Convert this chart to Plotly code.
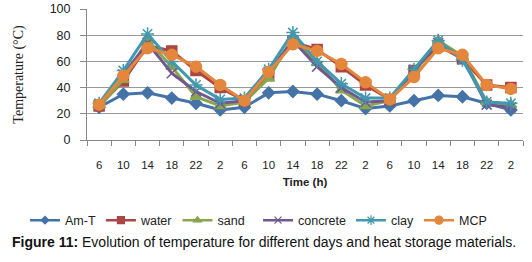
import plotly.graph_objects as go

hours = ["6", "10", "14", "18", "22", "2"] * 3
am_t = [25, 35, 36, 32, 28, 23, 25, 36, 37, 35, 30, 24, 26, 30, 34, 33, 28, 23]
water = [26, 45, 72, 68, 53, 40, 30, 50, 75, 69, 56, 42, 31, 53, 72, 62, 42, 40]
sand = [26, 46, 76, 56, 33, 26, 29, 47, 78, 59, 38, 26, 30, 51, 76, 64, 29, 27]
concrete = [27, 50, 74, 51, 37, 28, 30, 52, 76, 56, 40, 29, 30, 53, 74, 63, 27, 25]
clay = [28, 53, 81, 60, 42, 31, 32, 54, 82, 60, 43, 32, 32, 54, 76, 61, 29, 28]
mcp = [27, 49, 70, 65, 56, 42, 30, 52, 73, 68, 58, 44, 31, 48, 70, 65, 42, 39]

x = list(range(len(hours)))

series = [
    ("Am-T", am_t, "#4573A7", "diamond", 9),
    ("water", water, "#AA4643", "square", 10),
    ("sand", sand, "#89A54E", "triangle-up", 10),
    ("concrete", concrete, "#71588F", "x-thin-open", 10),
    ("clay", clay, "#4198AF", "asterisk-open", 11),
    ("MCP", mcp, "#E4873D", "circle", 11),
]

fig = go.Figure()
for name, vals, col, sym, sz in series:
    fig.add_trace(go.Scatter(
        x=x, y=vals, name=name, mode="lines+markers", showlegend=False,
        line=dict(color=col, width=3),
        marker=dict(symbol=sym, size=sz, color=col, line=dict(color=col, width=1.5)),
    ))
# legend entries with smaller symbols, as in the reference
for i, (name, vals, col, sym, sz) in enumerate(series):
    fig.add_trace(go.Scatter(
        x=[None], y=[None], name=name, mode="lines+markers", showlegend=True,
        legend="legend" if i < 3 else "legend2",
        line=dict(color=col, width=2.5),
        marker=dict(symbol=sym, size=sz - 3, color=col, line=dict(color=col, width=1.2)),
    ))

leg_common = dict(orientation="h", xref="container", yref="container",
                  y=(262 - 220.5) / 262, xanchor="left", yanchor="middle",
                  font=dict(size=12.5, family="Liberation Sans, Arial", color="#222"),
                  itemwidth=30, tracegroupgap=0, bgcolor="rgba(0,0,0,0)")

fig.update_layout(
    width=532, height=262,
    margin=dict(l=87, r=9, t=9, b=122, autoexpand=False),
    paper_bgcolor="white", plot_bgcolor="white",
    font=dict(family="Liberation Sans, Arial, sans-serif", size=11, color="#222"),
    showlegend=True,
    legend=dict(x=25 / 532, **leg_common),
    legend2=dict(x=258 / 532, **leg_common),
    xaxis=dict(
        range=[-0.5, 17.5], tickvals=x, ticktext=hours, ticks="", showgrid=False,
        showline=True, linecolor="#888", linewidth=1, zeroline=False, automargin=False,
        ticklabelstandoff=14,
        tickfont=dict(size=11.5, family="Liberation Sans, Arial", color="#222"),
        minor=dict(tickvals=[i - 0.5 for i in range(19)], ticks="outside", ticklen=5,
                   tickcolor="#888", showgrid=False),
        title=dict(text="<b>Time (h)</b>", font=dict(size=11.5, family="Liberation Sans, Arial"), standoff=8),
    ),
    yaxis=dict(
        range=[0, 100], tickvals=[0, 20, 40, 60, 80, 100], showgrid=True,
        gridcolor="#999", gridwidth=1, showline=True, linecolor="#888", linewidth=1,
        zeroline=False, ticks="outside", ticklen=6, tickcolor="#888", ticklabelstandoff=7,
        automargin=False,
        tickfont=dict(size=12.5, family="Liberation Sans, Arial", color="#222"),
        title=dict(text="Temperature (°C)", font=dict(size=14, family="Liberation Serif, Times New Roman, serif"), standoff=22),
    ),
    annotations=[dict(
        text="<b>Figure 11:</b> Evolution of temperature for different days and heat storage materials.",
        xref="paper", yref="paper", x=(264 - 87) / 436, y=(140 - 242) / 131, xanchor="center", yanchor="middle",
        showarrow=False, font=dict(size=14, family="Liberation Sans, Arial", color="#111"),
    )],
)

fig.write_html("out.html", config={"displayModeBar": False},
               post_script="document.body.style.margin='0';")
